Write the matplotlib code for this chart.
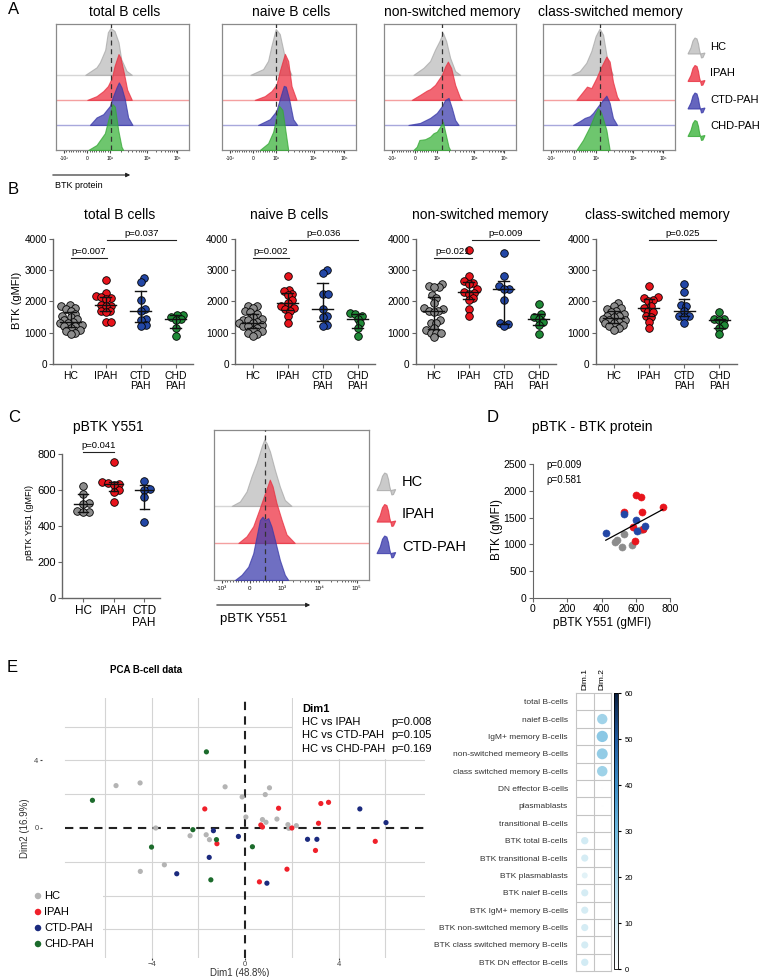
import numpy as np
import matplotlib
matplotlib.use("Agg")
import matplotlib.pyplot as plt
from matplotlib.colors import LinearSegmentedColormap, Normalize
from matplotlib.patches import Polygon, Rectangle
from matplotlib.cm import ScalarMappable

plt.rcParams['font.family'] = ['Liberation Sans', 'DejaVu Sans']

W, H = 762, 977

# ---------------- data ----------------
# A: flow histograms, (position on display axis 0..1, height in row units)
tot_hc = [(0.22, 0), (0.305, 0.3), (0.33, 0.5), (0.37, 1.0), (0.39, 1.7), (0.41, 1.87), (0.44, 1.75), (0.47, 1.3), (0.49, 0.63), (0.53, 0.16), (0.57, 0)]
tot_ipah = [(0.235, 0), (0.305, 0.15), (0.355, 0.35), (0.39, 0.55), (0.42, 0.88), (0.44, 1.35), (0.47, 1.83), (0.485, 1.68), (0.51, 1.08), (0.535, 0.41), (0.57, 0)]
tot_ctd = [(0.255, 0), (0.305, 0.3), (0.355, 0.43), (0.405, 0.76), (0.43, 1.16), (0.455, 1.5), (0.4725, 1.7), (0.4925, 1.5), (0.5175, 1.03), (0.5425, 0.3), (0.575, 0)]
tot_chd = [(0.2425, 0), (0.305, 0.2), (0.3675, 0.67), (0.3925, 1.2), (0.425, 1.83), (0.4425, 1.73), (0.4675, 0.8), (0.4925, 0.13), (0.505, 0)]

nai_hc = [(0.212, 0), (0.307, 0.23), (0.344, 0.56), (0.369, 1.16), (0.401, 1.83), (0.431, 1.63), (0.461, 0.89), (0.486, 0.36), (0.519, 0)]
nai_ipah = [(0.244, 0), (0.319, 0.15), (0.369, 0.35), (0.406, 0.61), (0.431, 1.15), (0.469, 1.84), (0.494, 1.55), (0.519, 0.55), (0.556, 0)]
nai_ctd = [(0.269, 0), (0.357, 0.23), (0.406, 0.56), (0.431, 1.03), (0.461, 1.56), (0.476, 1.53), (0.501, 1.03), (0.531, 0.23), (0.561, 0)]
nai_chd = [(0.282, 0), (0.344, 0.27), (0.382, 0.73), (0.406, 1.33), (0.426, 1.76), (0.451, 1.6), (0.476, 0.67), (0.494, 0)]

nsw_hc = [(0.223, 0), (0.299, 0.28), (0.349, 0.55), (0.387, 1.01), (0.42, 1.35), (0.446, 1.68), (0.471, 1.35), (0.501, 0.68), (0.539, 0.15), (0.577, 0)]
nsw_ipah = [(0.21, 0), (0.273, 0.2), (0.324, 0.37), (0.349, 0.43), (0.387, 0.6), (0.438, 1.0), (0.463, 1.33), (0.484, 1.53), (0.509, 1.27), (0.539, 0.6), (0.577, 0.07), (0.59, 0)]
nsw_ctd = [(0.185, 0), (0.273, 0.08), (0.349, 0.28), (0.4, 0.48), (0.438, 0.75), (0.463, 1.0), (0.489, 1.08), (0.514, 0.68), (0.539, 0.2), (0.565, 0)]
nsw_chd = [(0.223, 0), (0.248, 0.13), (0.268, 0.4), (0.311, 0.43), (0.349, 0.53), (0.375, 0.67), (0.4, 0.73), (0.425, 0.93), (0.446, 1.13), (0.463, 0.73), (0.489, 0.13), (0.501, 0)]

csw_hc = [(0.215, 0), (0.278, 0.15), (0.328, 0.48), (0.366, 0.95), (0.399, 1.55), (0.429, 1.85), (0.455, 1.6), (0.48, 0.81), (0.505, 0.28), (0.53, 0)]
csw_ipah = [(0.253, 0), (0.303, 0.33), (0.333, 0.53), (0.366, 0.47), (0.404, 0.87), (0.442, 1.33), (0.48, 1.73), (0.505, 1.53), (0.53, 0.73), (0.561, 0.13), (0.576, 0)]
csw_ctd = [(0.227, 0), (0.278, 0.15), (0.316, 0.28), (0.354, 0.35), (0.379, 0.48), (0.417, 0.75), (0.455, 1.01), (0.48, 1.17), (0.505, 0.88), (0.53, 0.28), (0.561, 0)]
csw_chd = [(0.253, 0), (0.303, 0.4), (0.354, 0.93), (0.391, 1.4), (0.417, 1.67), (0.442, 1.47), (0.48, 0.8), (0.505, 0)]

a_titles = ["total B cells", "naive B cells", "non-switched memory", "class-switched memory"]
a_medians = [0.4125, 0.40, 0.443, 0.43]
a_ticks = ["-10³", "0", "10³", "10⁴", "10⁵"]
a_tick_pos = [0.06, 0.235, 0.405, 0.685, 0.91]
a_legend = ["HC", "IPAH", "CTD-PAH", "CHD-PAH"]

# B: BTK gMFI per patient
b_groups = ["HC", "IPAH", "CTD\nPAH", "CHD\nPAH"]
tot_vals_hc = [1880, 1850, 1800, 1750, 1700, 1600, 1550, 1500, 1450, 1400, 1350, 1300, 1300, 1250, 1200, 1200, 1150, 1100, 1050, 1000, 950]
tot_vals_ipah = [2700, 2270, 2160, 2150, 2100, 2080, 1900, 1870, 1850, 1700, 1700, 1650, 1350, 1350]
tot_vals_ctd = [2750, 2620, 2050, 1750, 1700, 1450, 1420, 1250, 1230]
tot_vals_chd = [1580, 1560, 1500, 1430, 1400, 1150, 880]

nai_vals_hc = [1850, 1850, 1800, 1700, 1650, 1600, 1500, 1450, 1400, 1400, 1350, 1300, 1300, 1250, 1200, 1200, 1150, 1100, 1050, 1000, 950, 900]
nai_vals_ipah = [2820, 2370, 2320, 2250, 2200, 2050, 1950, 1850, 1800, 1750, 1700, 1550, 1300]
nai_vals_ctd = [3000, 2920, 2250, 2250, 1750, 1550, 1500, 1250, 1200]
nai_vals_chd = [1620, 1600, 1550, 1450, 1300, 1150, 900]

nsw_vals_hc = [2570, 2500, 2450, 2450, 2200, 2100, 1950, 1800, 1750, 1700, 1700, 1650, 1400, 1300, 1300, 1150, 1100, 1000, 1000, 1000, 850]
nsw_vals_ipah = [3650, 2800, 2650, 2600, 2550, 2400, 2300, 2270, 2250, 2100, 2050, 1750, 1550]
nsw_vals_ctd = [3550, 2830, 2500, 2400, 2400, 2050, 1320, 1270, 1200]
nsw_vals_chd = [1930, 1600, 1500, 1450, 1350, 1250, 950]

csw_vals_hc = [1950, 1850, 1800, 1750, 1700, 1650, 1600, 1550, 1550, 1500, 1450, 1400, 1400, 1350, 1300, 1300, 1250, 1200, 1150, 1100]
csw_vals_ipah = [2500, 2150, 2100, 2050, 2000, 1850, 1800, 1700, 1650, 1550, 1500, 1350, 1150]
csw_vals_ctd = [2550, 2300, 1880, 1850, 1700, 1550, 1550, 1500, 1300]
csw_vals_chd = [1650, 1450, 1450, 1400, 1250, 1150, 950]

# p-value brackets: (from group, to group, height, label)
tot_p = [(0, 1.05, 3400, "p=0.007"), (1.05, 3, 3970, "p=0.037")]
nai_p = [(0, 1.05, 3400, "p=0.002"), (1.05, 3, 3970, "p=0.036")]
nsw_p = [(0, 1.1, 3400, "p=0.021"), (1.1, 3, 3970, "p=0.009")]
csw_p = [(1, 2.9, 3970, "p=0.025")]

# C: pBTK Y551
c_groups = ["HC", "IPAH", "CTD\nPAH"]
c_vals_hc = [625, 578, 530, 522, 482, 480, 478]
c_vals_ipah = [757, 645, 640, 635, 628, 598, 590, 532]
c_vals_ctd = [652, 605, 600, 560, 425]
c_hist_hc = [(0.114, 0), (0.167, 0.12), (0.21, 0.39), (0.242, 0.8), (0.275, 1.16), (0.307, 1.6), (0.324, 1.79), (0.339, 1.7), (0.361, 1.47), (0.393, 0.97), (0.425, 0.52), (0.457, 0.16), (0.5, 0)]
c_hist_ipah = [(0.157, 0), (0.21, 0.18), (0.253, 0.45), (0.292, 0.9), (0.322, 1.26), (0.345, 1.53), (0.36, 1.71), (0.378, 1.53), (0.403, 1.08), (0.436, 0.63), (0.468, 0.23), (0.521, 0)]
c_hist_ctd = [(0.135, 0), (0.178, 0.14), (0.221, 0.36), (0.253, 0.72), (0.279, 1.26), (0.296, 1.62), (0.313, 1.71), (0.328, 1.62), (0.35, 1.67), (0.371, 1.44), (0.393, 1.08), (0.425, 0.54), (0.457, 0.14), (0.479, 0)]
c_tick_pos = [0.05, 0.23, 0.44, 0.68, 0.92]

# D: pBTK vs BTK
d_hc = [(478, 1036), (492, 1086), (517, 943), (533, 1185), (581, 993), (624, 1272), (640, 1284)]
d_ipah = [(601, 1929), (628, 1892), (531, 1600), (638, 1600), (757, 1700), (585, 1321), (644, 1290), (595, 1055)]
d_ctd = [(425, 1216), (531, 1563), (601, 1452), (605, 1253), (652, 1334)]

# E: PCA scores
pca_hc = [(-5.53, 2.51), (-4.5, 2.67), (-0.86, 2.44), (-0.13, 1.84), (0.03, 0.65), (1.04, 2.38), (0.86, 1.98), (0.74, 0.5), (0.89, 0.34), (1.36, 0.53), (1.83, 0.2), (1.87, -0.02), (2.19, 0.14), (-3.83, 0.0), (-2.36, -0.46), (-1.67, -0.4), (-1.53, -0.69), (-3.46, -2.18), (-4.49, -2.57)]
pca_ipah = [(-1.73, 1.13), (-1.21, -0.93), (1.43, 1.17), (0.67, 0.18), (0.74, 0.06), (2.0, 0.0), (3.24, 1.45), (3.57, 1.52), (3.14, 0.28), (3.01, -1.33), (1.79, -2.44), (0.61, -3.19), (5.57, -0.79)]
pca_ctd = [(-1.36, -0.16), (-0.29, -0.5), (-1.54, -1.74), (-2.93, -2.71), (0.93, -3.27), (2.67, -0.67), (3.07, -0.67), (4.91, 1.13), (6.03, 0.32)]
pca_chd = [(-1.66, 4.51), (-6.54, 1.64), (-2.24, -0.1), (-1.23, -0.69), (-4.01, -1.13), (0.31, -1.11), (-1.47, -3.07)]
pca_tests = ["HC vs IPAH", "HC vs CTD-PAH", "HC vs CHD-PAH"]
pca_pvals = ["p=0.008", "p=0.105", "p=0.169"]

# E: variable contributions (%)
contrib_rows = ["total B-cells", "naief B-cells", "IgM+ memory B-cells", "non-switched memeory B-cells",
                "class switched memory B-cells", "DN effector B-cells", "plasmablasts", "transitional B-cells",
                "BTK total B-cells", "BTK transitional B-cells", "BTK plasmablasts", "BTK naief B-cells",
                "BTK IgM+ memory B-cells", "BTK non-switched memory B-cells", "BTK class switched memory B-cells",
                "BTK DN effector B-cells"]
contrib_dim1 = [0.3, 0.1, 0.2, 0.1, 0.1, 0.3, 0.4, 0.1, 10.5, 10.0, 7.0, 10.0, 10.0, 10.0, 10.0, 10.5]
contrib_dim2 = [0.3, 21.0, 25.0, 23.5, 21.5, 0.5, 0.6, 0.4, 0.05, 0.05, 0.05, 0.05, 0.05, 0.05, 0.05, 0.05]

# ---------------- styles ----------------
hist_style = [
    dict(fill="#bdbdbd", edge="#a8a8a8", base="#d6d6d6"),
    dict(fill="#ee3344", edge="#e83040", base="#f4a0a0"),
    dict(fill="#3f3fae", edge="#3838a8", base="#a8a8dc"),
    dict(fill="#3db43d", edge="#35a835", base="#a8a8a8"),
]
dot_cols = ["#8c8c8c", "#e8141c", "#2347a6", "#1f8a37"]
pca_cols = ["#b4b4b4", "#f0202a", "#1b2a7e", "#1c6b2c"]

fig = plt.figure(figsize=(W / 100, H / 100), dpi=100)


def px_axes(x0, y0, x1, y1):
    return fig.add_axes([x0 / W, 1 - y1 / H, (x1 - x0) / W, (y1 - y0) / H])


ov = fig.add_axes([0, 0, 1, 1])
ov.set_xlim(0, W)
ov.set_ylim(H, 0)
ov.axis("off")
ov.set_zorder(20)


def txt(x, y, s, **kw):
    kw.setdefault("ha", "center")
    kw.setdefault("va", "center")
    ov.text(x, y, s, **kw)


def icon(x, y, st, scale=1.0):
    shape = [(0, 16), (3, 10), (5, 3), (7, 0), (9, 1), (10.5, 6), (11.5, 12), (12.5, 16),
             (13.5, 20), (15, 19.5), (17, 15), (12.5, 16)]
    pts = [(x + dx * scale, y + dy * scale) for dx, dy in shape]
    ov.add_patch(Polygon(pts, closed=True, fc=st["fill"], ec=st["edge"], lw=0.8, alpha=0.8))


def minor_positions(pos):
    out = []
    for k in range(1, 10):
        out.append(pos[0] + (pos[1] - pos[0]) * k / 10)
        out.append(pos[1] + (pos[2] - pos[1]) * k / 10)
    for a, b in [(pos[2], pos[3]), (pos[3], pos[4])]:
        for k in range(2, 10):
            out.append(a + (b - a) * np.log10(k))
    return out


def hist_panel(ax, curves, median, tick_pos, fs):
    n = len(curves)
    for i, curve in enumerate(curves):
        base = n - 1 - i
        st = hist_style[i]
        xs = [p[0] for p in curve]
        hs = [base + p[1] for p in curve]
        if base > 0:
            ax.axhline(base, color=st["base"], lw=1.0, zorder=1)
        ax.fill_between(xs, base, hs, facecolor=st["fill"], edgecolor=st["edge"],
                        lw=0.8, alpha=0.75, zorder=2 + i)
    ax.axvline(median, color="#333333", ls=(0, (4, 3)), lw=0.9, zorder=10)
    ax.set_xlim(0, 1)
    ax.set_yticks([])
    ax.set_xticks(tick_pos)
    ax.set_xticklabels(a_ticks)
    ax.set_xticks(minor_positions(tick_pos), minor=True)
    ax.tick_params(axis="x", which="major", length=2.5, labelsize=fs, pad=1.5, color="#444")
    ax.tick_params(axis="x", which="minor", length=1.5, color="#444")
    for s in ax.spines.values():
        s.set_color("#8a8a8a")
        s.set_linewidth(0.9)


def swarm(vals, ppu_y, d_px):
    vals = np.asarray(vals, dtype=float)
    out = np.zeros(len(vals))
    placed = []
    for idx in np.argsort(vals):
        y = vals[idx] * ppu_y
        cands = [0.0]
        for px_, py_ in placed:
            dy = y - py_
            if abs(dy) < d_px:
                dx = np.sqrt(d_px ** 2 - dy ** 2)
                cands += [px_ + dx, px_ - dx]
        cands.sort(key=abs)
        for c in cands:
            if all((c - px_) ** 2 + (y - py_) ** 2 >= d_px ** 2 - 1e-6 for px_, py_ in placed):
                out[idx] = c
                placed.append((c, y))
                break
    return out


def dot_panel(ax, groups, labels, ppu_y, ppu_x, brackets, ymax, step, fs, spread):
    for i, vals in enumerate(groups):
        offs = swarm(vals, ppu_y, spread) / ppu_x
        ax.scatter(i + offs, vals, s=30, c=dot_cols[i], edgecolors="black", linewidths=0.6, zorder=3)
        q1, med, q3 = np.percentile(vals, [25, 50, 75], method="weibull")
        ax.plot([i - 0.3, i + 0.3], [med, med], color="#111", lw=1.0, zorder=4)
        ax.plot([i, i], [q1, q3], color="#111", lw=1.0, zorder=4)
        ax.plot([i - 0.15, i + 0.15], [q1, q1], color="#111", lw=1.0, zorder=4)
        ax.plot([i - 0.15, i + 0.15], [q3, q3], color="#111", lw=1.0, zorder=4)
    for x0, x1, y, lab in brackets:
        ax.plot([x0, x1], [y, y], color="#222", lw=0.8, clip_on=False)
        ax.text((x0 + x1) / 2, y + ymax * 0.012, lab, ha="center", va="bottom", fontsize=6.8, clip_on=False)
    ax.set_ylim(0, ymax)
    ax.set_yticks(np.arange(0, ymax + 1, step))
    ax.set_xticks(range(len(groups)))
    ax.set_xticklabels(labels, fontsize=fs, linespacing=1.0)
    ax.spines[["top", "right"]].set_visible(False)
    for s in ["left", "bottom"]:
        ax.spines[s].set_color("#666")
        ax.spines[s].set_linewidth(1.0)
    ax.tick_params(axis="y", labelsize=7.2, length=3, pad=1.5, color="#666")
    ax.tick_params(axis="x", length=3, pad=2, color="#666")


# ---------------- panel A ----------------
a_axes = [(56, 24, 189, 150), (222, 24, 356, 150), (384, 24, 516, 150), (543, 24, 675, 150)]
a_curves = [[tot_hc, tot_ipah, tot_ctd, tot_chd], [nai_hc, nai_ipah, nai_ctd, nai_chd],
            [nsw_hc, nsw_ipah, nsw_ctd, nsw_chd], [csw_hc, csw_ipah, csw_ctd, csw_chd]]
a_title_x = [125, 291, 452, 610]
for box, curves, med, title, tx in zip(a_axes, a_curves, a_medians, a_titles, a_title_x):
    ax = px_axes(*box)
    hist_panel(ax, curves, med, a_tick_pos, 3.5)
    ax.set_ylim(0, 5.03)
    txt(tx, 12, title, fontsize=10)

txt(8, 10, "A", fontsize=12, ha="left")
ov.annotate("", xy=(133, 175), xytext=(50, 175),
            arrowprops=dict(arrowstyle="-|>", color="#222", lw=0.8, mutation_scale=6))
txt(55, 186, "BTK protein", fontsize=6.5, ha="left")
for i, lab in enumerate(a_legend):
    icon(688, 38 + i * 27.5, hist_style[i])
    txt(710, 47 + i * 26.3, lab, fontsize=8, ha="left")

# ---------------- panel B ----------------
txt(8, 190, "B", fontsize=12, ha="left")
b_axes = [(53, 239, 193, 364), (235, 239, 375, 364), (416, 239, 556, 364), (596, 239, 737, 364)]
b_data = [[tot_vals_hc, tot_vals_ipah, tot_vals_ctd, tot_vals_chd],
          [nai_vals_hc, nai_vals_ipah, nai_vals_ctd, nai_vals_chd],
          [nsw_vals_hc, nsw_vals_ipah, nsw_vals_ctd, nsw_vals_chd],
          [csw_vals_hc, csw_vals_ipah, csw_vals_ctd, csw_vals_chd]]
b_brackets = [tot_p, nai_p, nsw_p, csw_p]
b_title_x = [120, 289, 480, 657]
for box, groups, br, title, tx in zip(b_axes, b_data, b_brackets, a_titles, b_title_x):
    ax = px_axes(*box)
    ax.set_xlim(-0.5, 3.5)
    dot_panel(ax, groups, b_groups, 125 / 4000, 35, br, 4000, 1000, 7.5, 5.2)
    txt(tx, 215, title, fontsize=10)
txt(17, 300, "BTK (gMFI)", fontsize=8, rotation=90)

# ---------------- panel C ----------------
txt(8, 418, "C", fontsize=12, ha="left")
ax = px_axes(62, 454, 160, 598)
ax.set_xlim(-0.69, 2.52)
dot_panel(ax, [c_vals_hc, c_vals_ipah, c_vals_ctd], c_groups, 144 / 800, 30.5,
          [(0, 1, 811, "p=0.041")], 800, 200, 8.5, 6.0)
ax.tick_params(axis="y", labelsize=8)
txt(108, 427, "pBTK Y551", fontsize=10)
txt(30, 522, "pBTK Y551 (gMFI)", fontsize=6.5, rotation=90)

ax = px_axes(214, 430, 369, 580)
hist_panel(ax, [c_hist_hc, c_hist_ipah, c_hist_ctd], 0.33, c_tick_pos, 4.5)
ax.set_ylim(0, 4.05)
ov.annotate("", xy=(313, 605), xytext=(214, 605),
            arrowprops=dict(arrowstyle="-|>", color="#222", lw=0.8, mutation_scale=6))
txt(220, 619, "pBTK Y551", fontsize=9.5, ha="left")
for i, lab in enumerate(a_legend[:3]):
    icon(377, 473 + i * 31.5, hist_style[i], scale=1.1)
    txt(402, 482 + i * 32.5, lab, fontsize=10.5, ha="left")

# ---------------- panel D ----------------
txt(487, 418, "D", fontsize=12, ha="left")
txt(592, 427, "pBTK - BTK protein", fontsize=10)
ax = px_axes(533, 464, 670, 598)
all_x, all_y = [], []
for pts, c in zip([d_hc, d_ipah, d_ctd], dot_cols[:3]):
    xs = [p[0] for p in pts]
    ys = [p[1] for p in pts]
    all_x += xs
    all_y += ys
    ax.scatter(xs, ys, s=26, c=c, edgecolors=c, linewidths=0.4, zorder=3)
slope, icpt = np.polyfit(all_x, all_y, 1)
xl = np.array([min(all_x), max(all_x)])
ax.plot(xl, slope * xl + icpt, color="black", lw=0.9, zorder=4)
ax.set_xlim(0, 800)
ax.set_ylim(0, 2500)
ax.set_xticks(range(0, 801, 200))
ax.set_yticks(range(0, 2501, 500))
ax.spines[["top", "right"]].set_visible(False)
for s in ["left", "bottom"]:
    ax.spines[s].set_color("#666")
ax.tick_params(labelsize=7.5, length=3, pad=1.5, color="#666")
ax.text(80, 2480, "p=0.009", fontsize=7, va="center")
ax.text(80, 2200, "ρ=0.581", fontsize=7, va="center")
txt(497, 530, "BTK (gMFI)", fontsize=8.5, rotation=90)
txt(602, 623, "pBTK Y551 (gMFI)", fontsize=8.5)

# ---------------- panel E: PCA ----------------
txt(7, 667, "E", fontsize=12, ha="left")
txt(110, 670, "PCA B-cell data", fontsize=7, fontweight="bold", ha="left")
ax = px_axes(42, 698, 425, 958)
ax.set_xlim(-8.7, 7.7)
ax.set_ylim(-7.7, 7.7)
for g in [-6, -4, -2, 2, 4, 6]:
    ax.plot([g, g], [-7.7, 7.7], color="#d4d4d4", lw=0.8, zorder=0.5)
    ax.plot([-7.7, 7.7], [g, g], color="#d4d4d4", lw=0.8, zorder=0.5)
ax.add_patch(Rectangle((2.06, 4.06), 6, 4, fc="white", ec="none", zorder=1))
ax.plot([0, 0], [-7.7, 7.7], color="#222", ls=(0, (4, 3)), lw=1.5, zorder=2)
ax.plot([-7.7, 7.7], [0, 0], color="#222", ls=(0, (4, 3)), lw=1.5, zorder=2)
for pts, c in zip([pca_hc, pca_ipah, pca_ctd, pca_chd], pca_cols):
    ax.scatter([p[0] for p in pts], [p[1] for p in pts], s=14, c=c, edgecolors="none", zorder=3)
for s in ax.spines.values():
    s.set_visible(False)
ax.set_xticks([-4, 0, 4])
ax.set_yticks([0, 4])
ax.tick_params(labelsize=5.5, length=1.5, pad=1, colors="#444")
txt(240, 973, "Dim1 (48.8%)", fontsize=7, color="#333")
txt(25, 828, "Dim2 (16.9%)", fontsize=7, rotation=90, color="#333")

txt(302, 709, "Dim1", fontsize=8, fontweight="bold", ha="left")
for i, (t, p) in enumerate(zip(pca_tests, pca_pvals)):
    txt(302, 722 + i * 13.5, t, fontsize=8, ha="left")
    txt(391, 722 + i * 13.5, p, fontsize=8, ha="left")

ov.add_patch(Rectangle((33, 886), 70, 68, fc="white", ec="none", zorder=1))
for i, lab in enumerate(a_legend):
    ov.scatter([38], [896 + i * 16], s=22, c=pca_cols[i], edgecolors="none", zorder=2)
    txt(44, 896 + i * 16, lab, fontsize=8, ha="left", zorder=2)

# ---------------- panel E: contributions ----------------
cmap = LinearSegmentedColormap.from_list(
    "contrib", [(0, "#ffffff"), (10 / 60, "#d4ecf4"), (20 / 60, "#a6d6ea"), (30 / 60, "#6fbadf"),
                (40 / 60, "#3d8fc8"), (50 / 60, "#1f5aa0"), (1, "#0a1f3f")])
norm = Normalize(0, 60)
ax = px_axes(576, 693, 611, 971)
ax.set_xlim(0, 2)
ax.set_ylim(len(contrib_rows), 0)
for i in range(1, len(contrib_rows)):
    ax.axhline(i, color="#c4c4c4", lw=0.8, zorder=1)
ax.axvline(1, color="#c4c4c4", lw=0.8, zorder=1)
rows_y = np.arange(len(contrib_rows)) + 0.5
for j, vals in enumerate([contrib_dim1, contrib_dim2]):
    v = np.array(vals)
    ax.scatter(np.full(len(v), j + 0.5), rows_y, s=v * 2.64, c=v, cmap=cmap, norm=norm,
               edgecolors="none", zorder=2)
for s in ax.spines.values():
    s.set_color("#c4c4c4")
ax.set_yticks(rows_y)
ax.set_yticklabels(contrib_rows, fontsize=6, color="#333")
ax.xaxis.tick_top()
ax.set_xticks([0.5, 1.5])
ax.set_xticklabels(["Dim.1", "Dim.2"], rotation=90, fontsize=6)
ax.tick_params(length=0, pad=6)
ax.tick_params(axis="x", pad=2)

cax = px_axes(614, 693, 618, 969)
cb = fig.colorbar(ScalarMappable(norm=norm, cmap=cmap), cax=cax)
cb.set_ticks(range(0, 61, 10))
cb.outline.set_linewidth(0.6)
cax.tick_params(labelsize=5.5, length=2, pad=3)

fig.savefig("out.png", dpi=100)
